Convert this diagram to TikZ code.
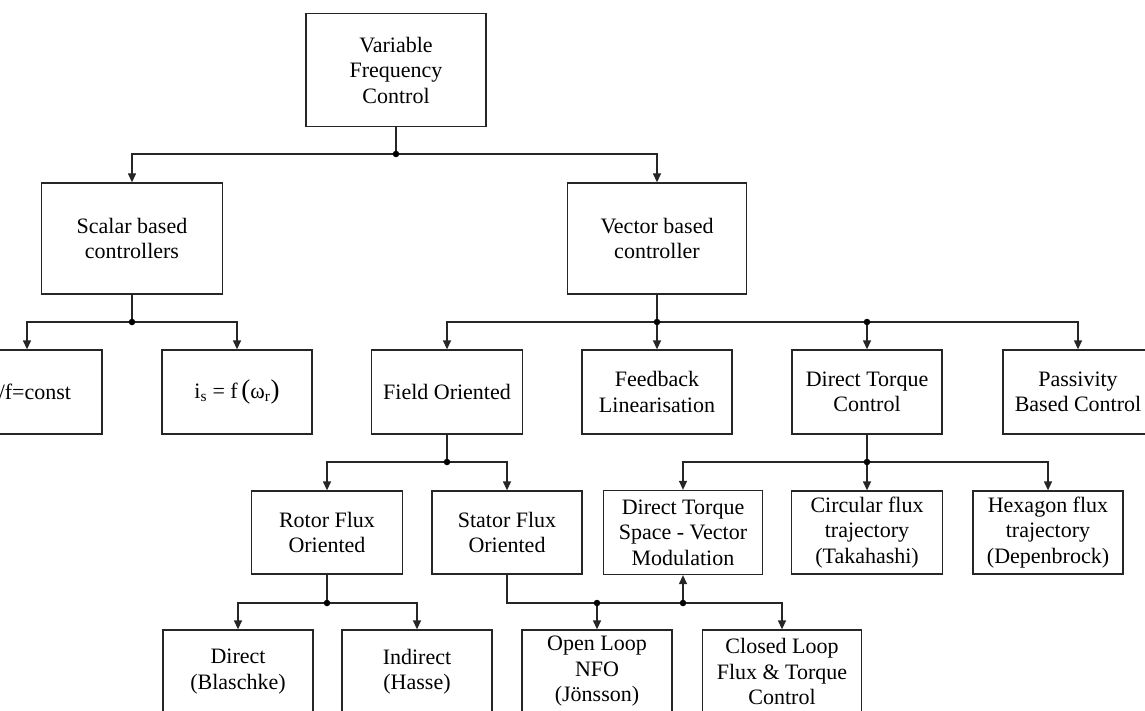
\documentclass[tikz,border=0pt]{standalone}
\usepackage{fontspec}
\setmainfont{Liberation Serif}
\usetikzlibrary{arrows.meta}
\tikzset{
  box/.style={draw=black!85, line width=1.3pt, align=center, inner sep=0pt,
    font=\fontsize{22}{25.5}\selectfont},
  wire/.style={draw=black!85, line width=1.3pt},
  arr/.style={wire, -{Triangle[length=9pt,width=8pt]}},
  dot/.style={circle, fill=black, inner sep=0pt, minimum size=6.5pt}
}
\begin{document}
\begin{tikzpicture}[x=1pt, y=-1pt]
\clip (0,0) rectangle (1145,711);
\fill[white] (0,0) rectangle (1145,711);
% level 0
\node[box, minimum width=180pt, minimum height=113pt] (vfc) at (396,70) {Variable\\Frequency\\Control};
% level 1
\node[box, minimum width=181pt, minimum height=111pt] (scalar) at (132,238.5) {Scalar based\\controllers};
\node[box, minimum width=179pt, minimum height=111pt] (vector) at (657,238.5) {Vector based\\controller};
% level 2
\node[box, minimum width=150pt, minimum height=84pt] (vf) at (27,392) {V/f=const};
\node[box, minimum width=150pt, minimum height=84pt] (is) at (237,392) {i\textsubscript{s} = f\,{\fontsize{27}{27}\selectfont(}ω\textsubscript{r}{\fontsize{27}{27}\selectfont)}};
\node[box, minimum width=151pt, minimum height=84pt] (field) at (447,392) {Field Oriented};
\node[box, minimum width=150pt, minimum height=84pt] (feed) at (657,392) {Feedback\\Linearisation};
\node[box, minimum width=150pt, minimum height=84pt] (dtc) at (867,392) {Direct Torque\\Control};
\node[box, minimum width=150pt, minimum height=84pt] (pass) at (1078,392) {Passivity\\Based Control};
% level 3
\node[box, minimum width=151pt, minimum height=83pt] (rotor) at (327,532.5) {Rotor Flux\\Oriented};
\node[box, minimum width=150pt, minimum height=83pt] (stator) at (507,532.5) {Stator Flux\\Oriented};
\node[box, minimum width=159pt, minimum height=84pt] (dtsvm) at (683,532.5) {Direct Torque\\Space - Vector\\Modulation};
\node[box, minimum width=151pt, minimum height=83pt] (circ) at (867,532.5) {Circular flux\\trajectory\\(Takahashi)};
\node[box, minimum width=150pt, minimum height=83pt] (hex) at (1048,532.5) {Hexagon flux\\trajectory\\(Depenbrock)};
% level 4
\node[box, minimum width=150pt, minimum height=83pt] (direct) at (238,671.5) {Direct\\(Blaschke)};
\node[box, minimum width=150pt, minimum height=83pt] (indirect) at (417,671.5) {Indirect\\(Hasse)};
\node[box, minimum width=150pt, minimum height=83pt] (open) at (597,671.5) {Open Loop\\NFO\\(Jönsson)};
\node[box, minimum width=159pt, minimum height=83pt] (closed) at (782,671.5) {Closed Loop\\Flux \& Torque\\Control};
% junctions
\coordinate (j0) at (396,154);
\coordinate (j1) at (132,322);
\coordinate (j2) at (657,322);
\coordinate (j2b) at (867,322);
\coordinate (j3) at (447,462);
\coordinate (j4) at (867,462);
\coordinate (j5) at (327,603);
\coordinate (j6) at (597,603);
\coordinate (j7) at (683,603);
% connectors
\draw[wire] (vfc.south) -- (j0);
\draw[arr] (j0) -| (scalar.north);
\draw[arr] (j0) -| (vector.north);
\draw[wire] (scalar.south) -- (j1);
\draw[arr] (j1) -| (vf.north);
\draw[arr] (j1) -| (is.north);
\draw[wire] (vector.south) -- (j2);
\draw[arr] (j2) -| (field.north);
\draw[arr] (j2) -- (feed.north);
\draw[arr] (j2) -| (pass.north);
\draw[arr] (j2b) -- (dtc.north);
\draw[wire] (field.south) -- (j3);
\draw[arr] (j3) -| (rotor.north);
\draw[arr] (j3) -| (stator.north);
\draw[wire] (dtc.south) -- (j4);
\draw[arr] (j4) -| (dtsvm.north);
\draw[arr] (j4) -- (circ.north);
\draw[arr] (j4) -| (hex.north);
\draw[wire] (rotor.south) -- (j5);
\draw[arr] (j5) -| (direct.north);
\draw[arr] (j5) -| (indirect.north);
\draw[arr] (stator.south) |- (j7) -| (closed.north);
\draw[arr] (j6) -- (open.north);
\draw[arr] (j7) -- (dtsvm.south);
% dots
\foreach \j in {j0,j1,j2,j2b,j3,j4,j5,j6,j7} \node[dot] at (\j) {};
\end{tikzpicture}
\end{document}
